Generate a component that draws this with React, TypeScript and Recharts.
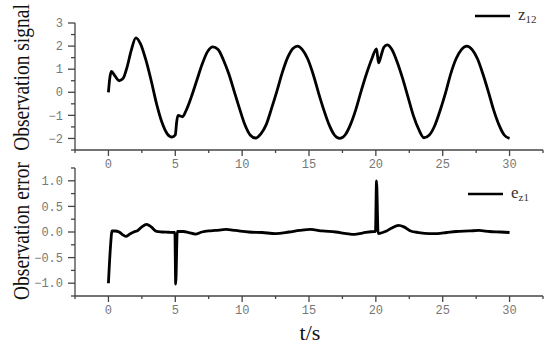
import { LineChart, Line, XAxis, YAxis, Legend } from "recharts";

// observation signal z12
const sigTime = [
  0, 0.1, 0.22, 0.5, 0.8, 1.1, 1.4, 1.7, 2.05, 2.4, 2.8, 3.2, 3.6, 4.0, 4.4, 4.75,
  5.0, 5.1, 5.2, 5.55, 5.8, 6.2, 6.6, 7.0, 7.4, 7.8, 8.2, 8.6, 9.0, 9.4, 9.8, 10.2,
  10.6, 11.0, 11.4, 11.8, 12.2, 12.6, 13.0, 13.4, 13.8, 14.15, 14.5, 14.9, 15.3, 15.7,
  16.1, 16.5, 16.9, 17.3, 17.7, 18.1, 18.5, 18.9, 19.3, 19.7, 20.05, 20.2, 20.4, 20.6,
  20.85, 21.2, 21.6, 22.0, 22.4, 22.8, 23.2, 23.6, 24.0, 24.4, 24.8, 25.2, 25.6, 26.0,
  26.4, 26.8, 27.2, 27.6, 28.0, 28.4, 28.8, 29.2, 29.6, 30.0,
];
const sigValue = [
  0, 0.6, 0.9, 0.7, 0.5, 0.6, 1.1, 1.8, 2.36, 2.1, 1.4, 0.5, -0.5, -1.3, -1.8, -1.94,
  -1.85, -1.3, -1.0, -1.06, -0.8, -0.2, 0.5, 1.2, 1.75, 1.97, 1.85, 1.4, 0.8, 0.05, -0.7, -1.4,
  -1.85, -1.98, -1.8, -1.4, -0.7, 0.05, 0.85, 1.5, 1.9, 2.0, 1.85, 1.45, 0.8, 0.0,
  -0.75, -1.4, -1.85, -2.0, -1.85, -1.4, -0.75, 0.05, 0.8, 1.45, 1.88, 1.27, 1.6, 1.95,
  2.05, 1.85, 1.3, 0.6, -0.2, -1.0, -1.6, -1.97, -1.85, -1.45, -0.8, -0.05, 0.8, 1.45,
  1.85, 2.0, 1.85, 1.45, 0.8, 0.05, -0.75, -1.4, -1.85, -2.0,
];

// observation error ez1
const errTime = [
  0, 0.15, 0.27, 0.5, 0.8, 1.05, 1.3, 1.6, 1.9, 2.2, 2.5, 2.85, 3.2, 3.6, 4.0, 4.5,
  4.97, 5.03, 5.15, 5.6, 6.0, 6.5, 7.0, 7.5, 8.0, 8.8, 9.5, 10.5, 11.5, 12.5, 13.5,
  14.3, 15.1, 16.0, 17.0, 17.8, 18.4, 19.0, 19.9, 19.97, 20.05, 20.17, 20.5, 20.8,
  21.2, 21.7, 22.1, 22.6, 23.2, 24.0, 24.6, 25.3, 26.0, 27.0, 27.7, 28.5, 29.3, 30.0,
];
const errValue = [
  -1.0, -0.3, 0.02, 0.02, 0.0, -0.05, -0.085, -0.04, 0.0, 0.03, 0.1, 0.15, 0.1, 0.01, 0.0, -0.005,
  -0.01, -1.02, 0.01, 0.01, -0.01, -0.04, 0.0, 0.02, 0.03, 0.05, 0.03, 0.0, -0.01, -0.03, 0.0,
  0.03, 0.05, 0.02, 0.0, -0.03, -0.045, -0.02, 0.01, 0.01, 1.0, -0.03, -0.01, 0.02,
  0.08, 0.13, 0.1, 0.02, -0.01, -0.03, -0.03, -0.01, 0.01, 0.02, 0.03, 0.01, 0.0, -0.01,
];

const xTicks = [-2.5, 0, 2.5, 5, 7.5, 10, 12.5, 15, 17.5, 20, 22.5, 25, 27.5, 30, 32.5];
const xLabels = [0, 5, 10, 15, 20, 25, 30];
const sigTicks = [-2.5, -2, -1.5, -1, -0.5, 0, 0.5, 1, 1.5, 2, 2.5, 3];
const sigLabels = [-2, -1, 0, 1, 2, 3];
const errTicks = [-1.25, -1, -0.75, -0.5, -0.25, 0, 0.25, 0.5, 0.75, 1, 1.25];
const errLabels = [-1, -0.5, 0, 0.5, 1];

const sigData = sigTime.map((t, i) => ({ t, v: sigValue[i] }));
const errData = errTime.map((t, i) => ({ t, v: errValue[i] }));

const AXIS = "#444";
const TICK_TEXT = "#777";
const MONO = "'Liberation Mono', 'DejaVu Sans Mono', monospace";
const SERIF = "'Liberation Serif', 'Times New Roman', serif";

const has = (list: number[], v: number) => list.some((l) => Math.abs(l - v) < 1e-6);
const minus = (s: string) => s.replace("-", "\u2212");

function XTick({ x, y, payload }: any) {
  const major = has(xLabels, payload.value);
  return (
    <g>
      <line x1={x} x2={x} y1={y} y2={y + (major ? 6 : 3)} stroke={AXIS} strokeWidth={1.3} />
      {major && (
        <text x={x} y={y + 18} textAnchor="middle" fontFamily={MONO} fontSize={12} fill={TICK_TEXT}>
          {payload.value}
        </text>
      )}
    </g>
  );
}

function makeYTick(labels: number[], digits: number) {
  return ({ x, y, payload }: any) => {
    const major = has(labels, payload.value);
    return (
      <g>
        <line x1={x - (major ? 7 : 4)} x2={x} y1={y} y2={y} stroke={AXIS} strokeWidth={1.3} />
        {major && (
          <text x={x - 12} y={y} dy="0.35em" textAnchor="end" fontFamily={MONO} fontSize={12} fill={TICK_TEXT}>
            {minus(payload.value.toFixed(digits))}
          </text>
        )}
      </g>
    );
  };
}

// rotated axis title, a bit stretched across like the original
function yTitle(text: string, dy: number) {
  return (props: any) => {
    const vb = props.viewBox;
    const cx = 29;
    const cy = vb.y + vb.height / 2 + dy;
    return (
      <text
        transform={`translate(${cx} ${cy}) scale(1.18 1) rotate(-90)`}
        textAnchor="middle"
        fontFamily={SERIF}
        fontSize={19.5}
        fill="#111"
      >
        {text}
      </text>
    );
  };
}

function LegendKey({ name, sub }: { name: string; sub: string }) {
  return (
    <svg width={85} height={24}>
      <line x1={5} x2={40} y1={10} y2={10} stroke="#000" strokeWidth={2.6} />
      <text x={48} y={14} fontFamily={SERIF} fontSize={17} fill="#333">
        {name}
        <tspan fontSize={11} dy={3}>{sub}</tspan>
      </text>
    </svg>
  );
}

export default function App() {
  return (
    <div style={{ position: "absolute", left: 0, top: 0, width: 550, height: 346, background: "#fff" }}>
      <div style={{ position: "absolute", left: 0, top: 0 }}>
        <LineChart width={550} height={175} data={sigData} margin={{ top: 23, right: 7, left: 0, bottom: 0 }}>
          <XAxis
            dataKey="t"
            type="number"
            domain={[-2.5, 32.5]}
            ticks={xTicks}
            interval={0}
            height={25}
            tickSize={0}
            tickMargin={0}
            tickLine={false}
            axisLine={{ stroke: AXIS, strokeWidth: 1.3 }}
            tick={<XTick />}
          />
          <YAxis
            type="number"
            domain={[-2.5, 3]}
            ticks={sigTicks}
            interval={0}
            width={75}
            tickSize={0}
            tickMargin={0}
            tickLine={false}
            axisLine={{ stroke: AXIS, strokeWidth: 1.3 }}
            tick={makeYTick(sigLabels, 0)}
            label={{ content: yTitle("Observation signal", -9) }}
          />
          <Legend
            layout="horizontal"
            verticalAlign="middle"
            align="center"
            wrapperStyle={{ position: "absolute", top: 6, left: 470, width: 85 }}
            content={() => <LegendKey name="z" sub="12" />}
          />
          <Line type="monotone" dataKey="v" stroke="#000" strokeWidth={2.8} dot={false} isAnimationActive={false} />
        </LineChart>
      </div>
      <div style={{ position: "absolute", left: 0, top: 0 }}>
        <LineChart width={550} height={346} data={errData} margin={{ top: 168, right: 7, left: 0, bottom: 0 }}>
          <XAxis
            dataKey="t"
            type="number"
            domain={[-2.5, 32.5]}
            ticks={xTicks}
            interval={0}
            height={50}
            tickSize={0}
            tickMargin={0}
            tickLine={false}
            axisLine={{ stroke: AXIS, strokeWidth: 1.3 }}
            tick={<XTick />}
            label={{
              content: (props: any) => (
                <text x={props.viewBox.x + props.viewBox.width / 2 + 1} y={340} textAnchor="middle" fontFamily={SERIF} fontSize={22} fill="#111">
                  t/s
                </text>
              ),
            }}
          />
          <YAxis
            type="number"
            domain={[-1.25, 1.25]}
            ticks={errTicks}
            interval={0}
            width={75}
            tickSize={0}
            tickMargin={0}
            tickLine={false}
            axisLine={{ stroke: AXIS, strokeWidth: 1.3 }}
            tick={makeYTick(errLabels, 1)}
            label={{ content: yTitle("Observation error", -1) }}
          />
          <Legend
            layout="horizontal"
            verticalAlign="middle"
            align="center"
            wrapperStyle={{ position: "absolute", top: 184, left: 463, width: 85 }}
            content={() => <LegendKey name="e" sub="z1" />}
          />
          <Line type="monotone" dataKey="v" stroke="#000" strokeWidth={2.8} dot={false} isAnimationActive={false} />
        </LineChart>
      </div>
    </div>
  );
}
